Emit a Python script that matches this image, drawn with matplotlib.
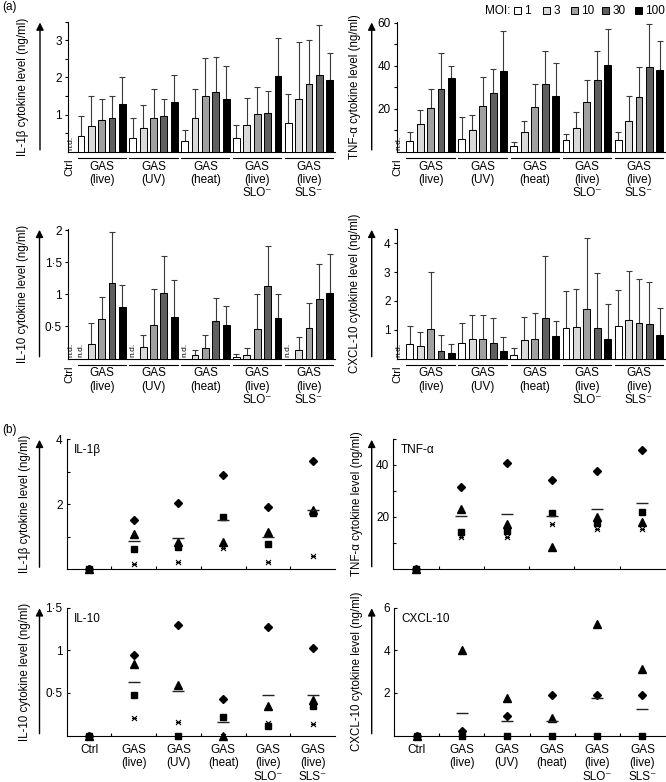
import numpy as np
import matplotlib.pyplot as plt
from matplotlib.patches import Rectangle, FancyArrowPatch
from matplotlib.path import Path
from matplotlib.transforms import blended_transform_factory

plt.rcParams['font.family'] = ['Liberation Sans', 'DejaVu Sans']
plt.rcParams['font.size'] = 8

W, H = 666, 782

groups = ['GAS\n(live)', 'GAS\n(UV)', 'GAS\n(heat)', 'GAS\n(live)\nSLO⁻', 'GAS\n(live)\nSLS⁻']
dot_cats = ['Ctrl'] + groups
moi_labels = ['1', '3', '10', '30', '100']
moi_colors = ['white', '#d9d9d9', '#a0a0a0', '#5f5f5f', 'black']

# (a) bar heights and error-bar tops; rows = GAS groups, cols = MOI; None = n.d.
il1b_mean = [[0.42, 0.69, 0.86, 0.92, 1.28],
             [0.37, 0.63, 0.92, 0.95, 1.33],
             [0.29, 0.92, 1.50, 1.60, 1.42],
             [0.36, 0.71, 1.01, 1.05, 2.05],
             [0.77, 1.42, 1.82, 2.07, 1.93]]
il1b_top = [[0.95, 1.50, 1.43, 1.50, 2.00],
            [0.90, 1.25, 1.70, 1.43, 2.06],
            [0.58, 1.68, 2.53, 2.56, 2.32],
            [0.73, 1.45, 1.73, 1.63, 3.07],
            [1.54, 2.96, 3.02, 3.42, 2.67]]

tnf_mean = [[4.8, 13.0, 20.3, 29.3, 34.5],
            [5.8, 10.3, 21.4, 27.3, 37.5],
            [2.7, 9.2, 20.6, 31.4, 26.0],
            [5.6, 11.1, 23.0, 33.4, 40.4],
            [5.3, 14.2, 25.6, 39.4, 38.2]]
tnf_top = [[9.2, 19.6, 29.3, 45.8, 39.8],
           [16.0, 17.2, 34.7, 38.4, 56.2],
           [4.7, 14.4, 31.4, 47.0, 41.2],
           [8.4, 18.6, 33.4, 46.8, 57.2],
           [9.4, 25.8, 39.2, 59.4, 51.6]]

il10_mean = [[None, 0.22, 0.61, 1.17, 0.80],
             [None, 0.18, 0.52, 1.02, 0.65],
             [None, 0.05, 0.16, 0.58, 0.52],
             [0.03, 0.06, 0.46, 1.13, 0.63],
             [None, 0.14, 0.47, 0.93, 1.02]]
il10_top = [[None, 0.56, 0.96, 1.97, 1.14],
            [None, 0.37, 1.09, 1.60, 1.22],
            [None, 0.14, 0.36, 0.94, 0.82],
            [0.07, 0.17, 1.01, 1.75, 1.00],
            [None, 0.33, 0.86, 1.48, 1.63]]

cxcl_mean = [[0.50, 0.44, 1.03, 0.27, 0.18],
             [0.55, 0.69, 0.68, 0.53, 0.25],
             [0.12, 0.63, 0.67, 1.42, 0.77],
             [1.06, 1.11, 1.73, 1.05, 0.68],
             [1.13, 1.34, 1.23, 1.20, 0.80]]
cxcl_top = [[1.14, 0.93, 2.99, 0.81, 0.52],
            [1.22, 1.51, 1.51, 1.40, 0.76],
            [0.38, 1.43, 1.57, 3.56, 1.31],
            [2.34, 2.43, 4.20, 2.96, 1.90],
            [2.38, 3.04, 2.76, 2.66, 1.75]]

# (b) individual donors (Ctrl, live, UV, heat, SLO-, SLS-) and group means
il1b_diamond = [0, 1.51, 2.03, 2.90, 1.91, 3.33]
il1b_triangle = [0, 1.09, 0.82, 0.83, 1.13, 1.83]
il1b_square = [0, 0.62, 0.68, 1.61, 0.76, 1.72]
il1b_star = [0, 0.14, 0.21, 0.66, 0.21, 0.40]
il1b_avg = [0, 0.85, 0.94, 1.50, 1.00, 1.82]

tnf_diamond = [0, 31.6, 40.6, 34.3, 37.7, 45.7]
tnf_triangle = [0, 23.0, 17.1, 8.4, 19.9, 17.9]
tnf_square = [0, 13.9, 14.5, 21.4, 17.4, 21.9]
tnf_star = [0, 12.2, 12.3, 17.1, 15.1, 15.2]
tnf_avg = [0, 20.3, 21.0, 20.3, 22.9, 25.2]

il10_diamond = [0, 0.94, 1.30, 0.43, 1.27, 1.03]
il10_triangle = [0, 0.84, 0.59, 0.00, 0.35, 0.42]
il10_square = [0, 0.48, 0.00, 0.22, 0.11, 0.34]
il10_star = [0, 0.20, 0.16, 0.00, 0.15, 0.13]
il10_avg = [0, 0.63, 0.52, 0.16, 0.47, 0.48]

cxcl_diamond = [0, 0.19, 0.92, 1.91, 1.91, 1.88]
cxcl_triangle = [0, 4.00, 1.77, 0.82, 5.24, 3.14]
cxcl_square = [0, 0, 0, 0, 0, 0]
cxcl_star = [0, 0, 0, 0, 0, 0]
cxcl_avg = [0, 1.05, 0.70, 0.68, 1.78, 1.26]

# x with a horizontal bar through it
star_marker = Path([(-1, -1), (1, 1), (-1, 1), (1, -1), (-1, 0), (1, 0)],
                   [Path.MOVETO, Path.LINETO, Path.MOVETO, Path.LINETO, Path.MOVETO, Path.LINETO])

fig = plt.figure(figsize=(W / 100, H / 100), dpi=100)


def px_axes(left, top, right, bottom):
    return fig.add_axes([left / W, 1 - bottom / H, (right - left) / W, (bottom - top) / H])


def side_label(box, text, label_x, arrow_x):
    left, top, right, bottom = box
    fig.text(label_x / W, 1 - (top + bottom) / 2 / H, text, rotation=90,
             ha='center', va='center', fontsize=8.3)
    arr = FancyArrowPatch((arrow_x / W, 1 - (bottom + 1) / H), (arrow_x / W, 1 - (top - 2) / H),
                          transform=fig.transFigure, arrowstyle='-|>', mutation_scale=11,
                          lw=1.0, color='black')
    fig.add_artist(arr)


def bar_panel(box, means, tops, ylim, yticks, yticklabels, minor, ylabel, label_x, arrow_x):
    ax = px_axes(*box)
    h = box[3] - box[1]
    nd = [0]
    for g in range(5):
        for k in range(5):
            s = 1 + 5 * g + k
            if means[g][k] is None:
                nd.append(s)
                continue
            ax.bar(s, means[g][k], width=0.66, color=moi_colors[k], edgecolor='black',
                   lw=0.7, zorder=3)
            ax.errorbar(s, means[g][k], yerr=[[0], [tops[g][k] - means[g][k]]], fmt='none',
                        ecolor='#3a3a3a', elinewidth=0.8, capsize=2.0, capthick=0.8, zorder=2)
    for s in nd:
        ax.text(s, ylim[1] * 0.012, 'n.d.', rotation=90, ha='center', va='bottom', fontsize=6)
    ax.set_xlim(-0.25, 25.5)
    ax.set_ylim(*ylim)
    ax.set_xticks([])
    ax.set_yticks(yticks)
    ax.set_yticklabels(yticklabels)
    ax.set_yticks(minor, minor=True)
    ax.tick_params(axis='y', which='both', direction='out', length=2.5, width=0.8, pad=2)
    ax.tick_params(axis='y', labelsize=8.5)
    for sp in ['top', 'right']:
        ax.spines[sp].set_visible(False)
    for sp in ['left', 'bottom']:
        ax.spines[sp].set_linewidth(0.8)
    ax.patch.set_visible(False)
    trans = blended_transform_factory(ax.transData, ax.transAxes)
    for g in range(5):
        ax.plot([1 + 5 * g - 0.32, 5 + 5 * g + 0.32], [-6.5 / h, -6.5 / h], transform=trans,
                clip_on=False, color='black', lw=0.8)
        ax.text(3 + 5 * g, -9 / h, groups[g], transform=trans, ha='center', va='top',
                fontsize=8.5, linespacing=1.15)
    ax.text(-0.15, -7 / h, 'Ctrl', transform=trans, rotation=90, ha='center', va='top',
            fontsize=8)
    side_label(box, ylabel, label_x, arrow_x)
    return ax


def dot_panel(box, diamond, triangle, square, star, avg, ylim, yticks, yticklabels,
              title, ylabel, label_x, arrow_x, show_labels):
    ax = px_axes(*box)
    h = box[3] - box[1]
    w = box[2] - box[0]
    xs = np.arange(6)
    ax.plot(xs, star, ls='none', marker=star_marker, ms=3.6, mew=0.8, color='black',
            mfc='none', clip_on=False, zorder=3)
    ax.plot(xs, square, ls='none', marker='s', ms=4.5, color='black', clip_on=False, zorder=4)
    ax.plot(xs, triangle, ls='none', marker='^', ms=5.5, color='black', clip_on=False, zorder=5)
    ax.plot(xs, diamond, ls='none', marker='D', ms=4.2, color='black', clip_on=False, zorder=6)
    ax.plot(xs[1:], avg[1:], ls='none', marker='_', ms=9, mew=1.0, color='#222222',
            clip_on=False, zorder=7)
    ax.set_xlim(-0.5, 5.5)
    ax.set_ylim(*ylim)
    ax.set_xticks([0.5, 1.5, 2.5, 3.5, 4.5])
    ax.set_xticklabels([])
    ax.tick_params(axis='x', direction='in', length=2.5, width=0.8)
    ax.set_yticks(yticks)
    ax.set_yticklabels(yticklabels)
    ax.tick_params(axis='y', direction='in', length=2.5, width=0.8, pad=3, labelsize=8.5)
    for sp in ['top', 'right']:
        ax.spines[sp].set_visible(False)
    for sp in ['left', 'bottom']:
        ax.spines[sp].set_linewidth(0.8)
    ax.patch.set_visible(False)
    ax.text(7.5 / w, 1 - 11 / h, title, transform=ax.transAxes, ha='left', va='center',
            fontsize=8.5)
    if show_labels:
        trans = blended_transform_factory(ax.transData, ax.transAxes)
        for i, c in enumerate(dot_cats):
            ax.text(i, -8.5 / h, c, transform=trans, ha='center', va='top', fontsize=8.5,
                    linespacing=1.15)
    side_label(box, ylabel, label_x, arrow_x)
    return ax


bar_panel((68, 21.7, 335, 151.7), il1b_mean, il1b_top, (0, 3.5), [1, 2, 3], ['1', '2', '3'],
          [0.5, 1.5, 2.5, 3.5], 'IL-1β cytokine level (ng/ml)', 23, 40)
bar_panel((396.7, 21.7, 665, 151.7), tnf_mean, tnf_top, (0, 60.5), [20, 40, 60],
          ['20', '40', '60'], [10, 30, 50], 'TNF-α cytokine level (ng/ml)', 355, 371.7)
bar_panel((68, 229, 335, 358.5), il10_mean, il10_top, (0, 2.02), [0.5, 1, 1.5, 2],
          ['0·5', '1', '1·5', '2'], [], 'IL-10 cytokine level (ng/ml)', 23, 39.5)
bar_panel((396.7, 229, 665, 358.5), cxcl_mean, cxcl_top, (0, 4.5), [1, 2, 3, 4],
          ['1', '2', '3', '4'], [4.5], 'CXCL-10 cytokine level (ng/ml)', 355, 371.7)

dot_panel((66.7, 439, 335, 569), il1b_diamond, il1b_triangle, il1b_square, il1b_star, il1b_avg,
          (0, 4), [1, 2, 3, 4], ['', '2', '', '4'], 'IL-1β',
          'IL-1β cytokine level (ng/ml)', 25, 39.5, False)
dot_panel((393.3, 439, 665, 568.5), tnf_diamond, tnf_triangle, tnf_square, tnf_star, tnf_avg,
          (0, 50), [10, 20, 30, 40, 50], ['', '20', '', '40', ''], 'TNF-α',
          'TNF-α cytokine level (ng/ml)', 356.7, 371.7, False)
dot_panel((66.7, 607.5, 335, 735.5), il10_diamond, il10_triangle, il10_square, il10_star,
          il10_avg, (0, 1.5), [0.5, 1, 1.5], ['0·5', '1', '1·5'], 'IL-10',
          'IL-10 cytokine level (ng/ml)', 25, 39.5, True)
dot_panel((394, 607.5, 665, 735.5), cxcl_diamond, cxcl_triangle, cxcl_square, cxcl_star,
          cxcl_avg, (0, 6), [2, 4, 6], ['2', '4', '6'], 'CXCL-10',
          'CXCL-10 cytokine level (ng/ml)', 356.7, 371.7, True)

# panel letters
fig.text(2 / W, 1 - 7 / H, '(a)', ha='left', va='center', fontsize=8.5)
fig.text(2 / W, 1 - 430 / H, '(b)', ha='left', va='center', fontsize=8.5)

# MOI legend
fig.text(485 / W, 1 - 10.7 / H, 'MOI:', ha='left', va='center', fontsize=8.5)
box_x = [514, 543, 571, 602, 635]
for bx, col, lab in zip(box_x, moi_colors, moi_labels):
    fig.patches.append(Rectangle((bx / W, 1 - 14.4 / H), 7.4 / W, 7.4 / H,
                                 transform=fig.transFigure, facecolor=col,
                                 edgecolor='black', lw=0.7))
    fig.text((bx + 10.5) / W, 1 - 10.7 / H, lab, ha='left', va='center', fontsize=8.5)

fig.savefig('out.png', dpi=100)
